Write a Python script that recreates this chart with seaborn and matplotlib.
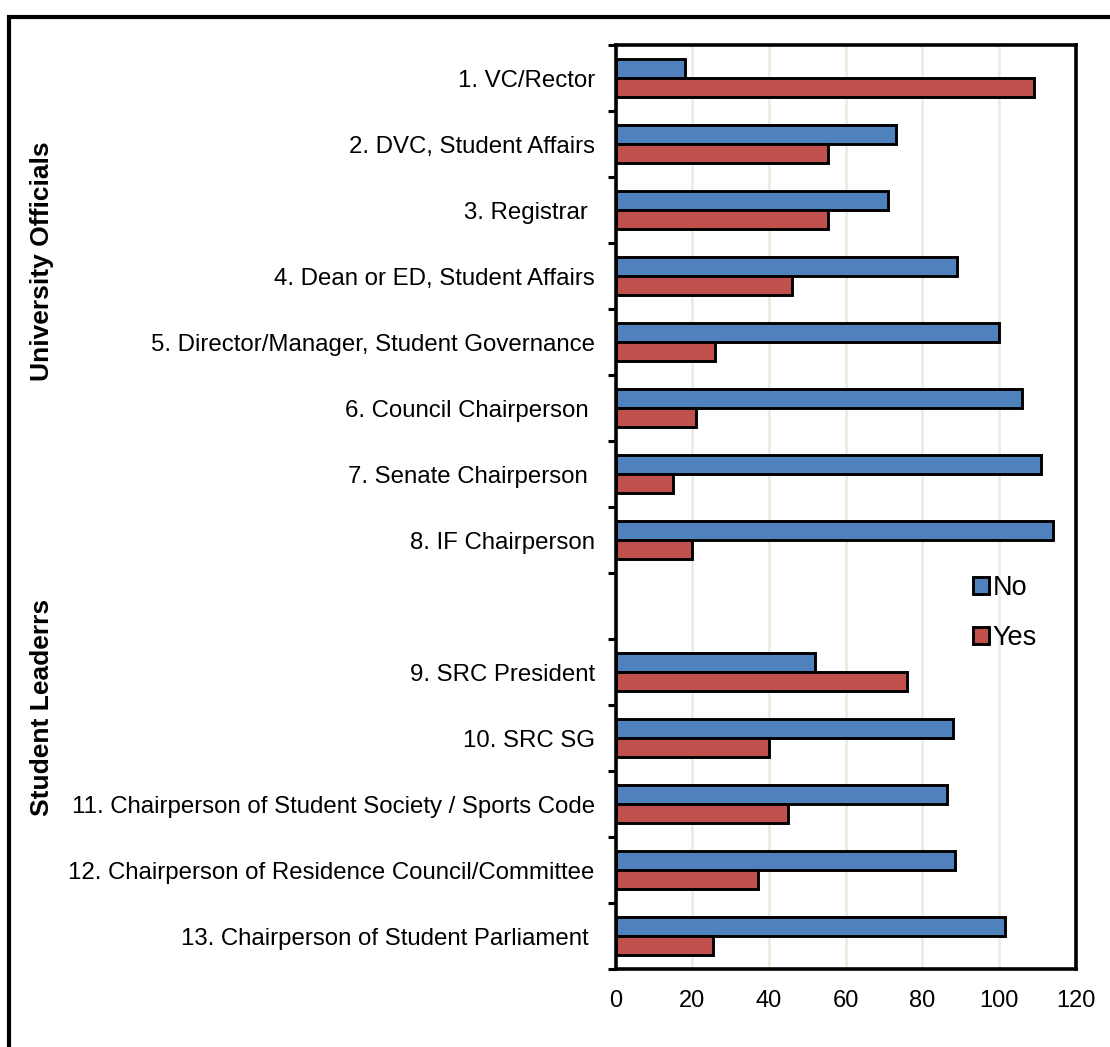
import matplotlib
matplotlib.use("Agg")
import matplotlib.pyplot as plt
import seaborn as sns
import pandas as pd
from matplotlib.patches import Rectangle

categories = [
    "1. VC/Rector",
    "2. DVC, Student Affairs",
    "3. Registrar ",
    "4. Dean or ED, Student Affairs",
    "5. Director/Manager, Student Governance",
    "6. Council Chairperson ",
    "7. Senate Chairperson ",
    "8. IF Chairperson",
    " ",
    "9. SRC President",
    "10. SRC SG",
    "11. Chairperson of Student Society / Sports Code",
    "12. Chairperson of Residence Council/Committee",
    "13. Chairperson of Student Parliament ",
]
no_values = [18, 73, 71, 89, 100, 106, 111, 114, None, 52, 88, 86.5, 88.5, 101.5]
yes_values = [109, 55.5, 55.5, 46, 26, 21, 15, 20, None, 76, 40, 45, 37, 25.5]
series = ["No", "Yes"]
colors = {"No": "#4F81BD", "Yes": "#C0504D"}
x_ticks = [0, 20, 40, 60, 80, 100, 120]
group_labels = ["University Officials", "Student Leaderrs"]

rows = []
for c, n, y in zip(categories, no_values, yes_values):
    if n is not None:
        rows.append({"category": c, "answer": "No", "value": n})
    if y is not None:
        rows.append({"category": c, "answer": "Yes", "value": y})
df = pd.DataFrame(rows)

sns.set_style("white")
plt.rcParams["font.family"] = ["Liberation Sans", "DejaVu Sans"]
plt.rcParams["text.color"] = "black"
plt.rcParams["xtick.color"] = "black"
plt.rcParams["ytick.color"] = "black"
plt.rcParams["axes.labelcolor"] = "black"

fig = plt.figure(figsize=(11.1, 10.47), dpi=100)
ax = fig.add_axes([615.7 / 1110, 1 - 969 / 1047, (1075.7 - 615.7) / 1110, (969 - 45) / 1047])

sns.barplot(data=df, y="category", x="value", hue="answer", order=categories,
            hue_order=series, palette=colors, saturation=1, orient="h", width=0.6, gap=0.05,
            errorbar=None, edgecolor="black", linewidth=2.1, ax=ax, zorder=3)

ax.set_xlim(0, 120)
ax.set_ylim(len(categories) - 0.5, -0.5)
ax.set_xticks(x_ticks)
ax.set_xticklabels([str(t) for t in x_ticks])
ax.set_xlabel("")
ax.set_ylabel("")
ax.grid(axis="x", color="#EEECE1", linewidth=2, zorder=0)
ax.grid(axis="y", visible=False)
ax.set_axisbelow(True)

ax.set_yticks(range(len(categories)))
ax.set_yticklabels(categories)
ax.set_yticks([i - 0.5 for i in range(len(categories) + 1)], minor=True)
ax.tick_params(axis="y", which="major", length=0, pad=15, labelsize=17.3, labelcolor="black")
ax.tick_params(axis="y", which="minor", length=6, width=2.2, color="black", direction="out", left=True)
ax.tick_params(axis="x", which="major", length=0, pad=15, labelsize=17, labelcolor="black")

for s in ax.spines.values():
    s.set_visible(True)
    s.set_color("black")
    s.set_linewidth(2.6)

handles, labels = ax.get_legend_handles_labels()
leg = ax.legend(handles, labels, loc="upper left", bbox_to_anchor=(973 / 1110, 1 - 575 / 1047),
                bbox_transform=fig.transFigure, frameon=False, fontsize=19.5, borderpad=0,
                borderaxespad=0, handlelength=0.58, handleheight=0.58, handletextpad=0.15,
                labelspacing=0.88)

fig.text(42.5 / 1110, 1 - 261 / 1047, group_labels[0], rotation=90, ha="center", va="center",
         fontsize=19, fontweight="bold")
fig.text(42.5 / 1110, 1 - 707 / 1047, group_labels[1], rotation=90, ha="center", va="center",
         fontsize=19, fontweight="bold")

fig.patches.append(Rectangle((8.5 / 1110, -0.01), 1.02, 1 - 17 / 1047 + 0.01, transform=fig.transFigure,
                             fill=False, edgecolor="black", linewidth=3, zorder=10))

fig.savefig("out.png", dpi=100, facecolor="white")
